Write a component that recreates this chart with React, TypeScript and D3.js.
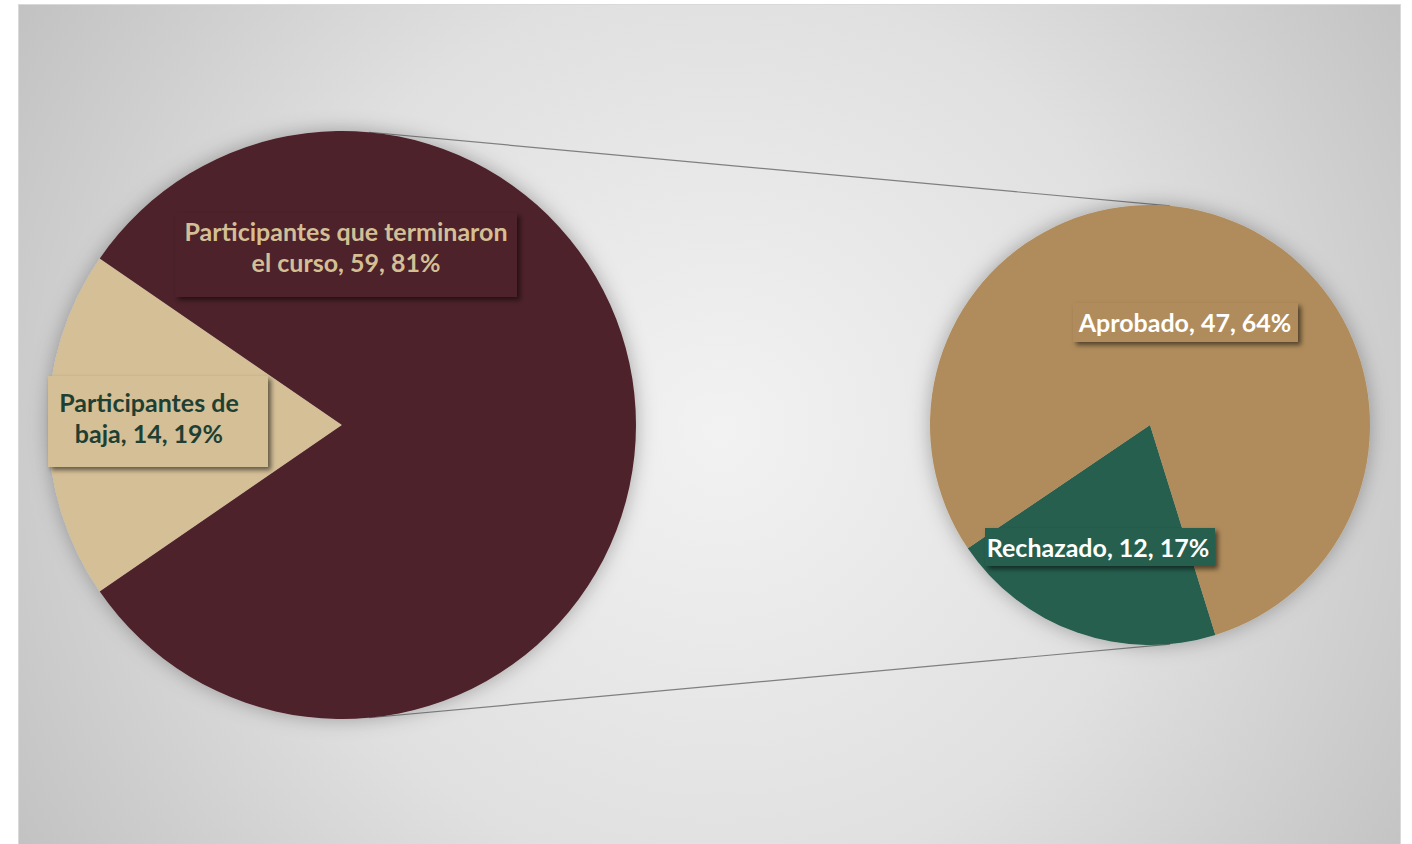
import React from "react";
import * as d3 from "d3";

const mainCategories = ["Participantes de baja", "Participantes que terminaron el curso"];
const mainValues = [14, 59];
const mainPercents = ["19%", "81%"];
const subCategories = ["Rechazado", "Aprobado"];
const subValues = [12, 47];
const subPercents = ["17%", "64%"];

const W = 1412;
const H = 844;
const FONT = "Lato, 'Open Sans', sans-serif";

export default function App() {
  const deg = Math.PI / 180;
  const c1 = { x: 342, y: 425, r: 294 };
  const c2 = { x: 1150, y: 425, r: 220 };

  const bajaSpan = (mainValues[0] / d3.sum(mainValues)) * 2 * Math.PI;
  const mainStart = 1.5 * Math.PI - bajaSpan / 2;
  const mainArcs = d3.pie<number>().sort(null).startAngle(mainStart).endAngle(mainStart + 2 * Math.PI)(mainValues);
  const subStart = 162.7 * deg;
  const subArcs = d3.pie<number>().sort(null).startAngle(subStart).endAngle(subStart + 2 * Math.PI)(subValues);

  const arc1 = d3.arc<any>().innerRadius(0).outerRadius(c1.r);
  const arc2 = d3.arc<any>().innerRadius(0).outerRadius(c2.r);

  const mainColors = ["#d4bf97", "#4e212c"];
  const subColors = ["#275e4e", "#b08c5c"];

  // external tangents
  const d = c2.x - c1.x;
  const th = Math.asin((c1.r - c2.r) / d);
  const tTop = [
    [c1.x + c1.r * Math.sin(th), c1.y - c1.r * Math.cos(th)],
    [c2.x + c2.r * Math.sin(th), c2.y - c2.r * Math.cos(th)],
  ];
  const tBot = [
    [c1.x + c1.r * Math.sin(th), c1.y + c1.r * Math.cos(th)],
    [c2.x + c2.r * Math.sin(th), c2.y + c2.r * Math.cos(th)],
  ];

  const labels = [
    {
      lines: ["Participantes que terminaron", `el curso, ${mainValues[1]}, ${mainPercents[1]}`],
      box: [175, 213, 342, 84], cx: 346, y0: 232, fill: mainColors[1], color: "#d4bf95",
    },
    {
      lines: ["Participantes de", `baja, ${mainValues[0]}, ${mainPercents[0]}`],
      box: [48, 376, 220, 91], cx: 149, y0: 403, fill: mainColors[0], color: "#1f3f33",
    },
    {
      lines: [`${subCategories[1]}, ${subValues[1]}, ${subPercents[1]}`],
      box: [1073, 303, 225, 39], cx: 1185, y0: 323, fill: subColors[1], color: "#ffffff",
    },
    {
      lines: [`${subCategories[0]}, ${subValues[0]}, ${subPercents[0]}`],
      box: [985, 528, 230, 38], cx: 1098, y0: 548, fill: subColors[0], color: "#ffffff",
    },
  ];

  return (
    <div style={{ position: "absolute", left: 0, top: 0 }}>
      <svg width={W} height={H} style={{ display: "block" }}>
        <defs>
          <radialGradient id="bg" gradientUnits="userSpaceOnUse" cx={720} cy={430} r={820}>
            <stop offset="0" stopColor="#f2f2f2" />
            <stop offset="0.55" stopColor="#e0e0e0" />
            <stop offset="1" stopColor="#c2c2c2" />
          </radialGradient>
          <filter id="pieShadow" x="-20%" y="-20%" width="140%" height="140%">
            <feDropShadow dx="0" dy="0" stdDeviation="10" floodColor="#000" floodOpacity="0.3" />
          </filter>
          <filter id="boxShadow" x="-10%" y="-20%" width="125%" height="150%">
            <feDropShadow dx="3" dy="3" stdDeviation="2.5" floodColor="#000" floodOpacity="0.55" />
          </filter>
        </defs>
        <rect x={0} y={0} width={W} height={H} fill="#ffffff" />
        <rect x={18.5} y={4.5} width={1382} height={H} fill="url(#bg)" stroke="#d9d9d9" strokeWidth={1} />

        <line x1={tTop[0][0]} y1={tTop[0][1]} x2={tTop[1][0]} y2={tTop[1][1]} stroke="#7f7f7f" strokeWidth={1.2} />
        <line x1={tBot[0][0]} y1={tBot[0][1]} x2={tBot[1][0]} y2={tBot[1][1]} stroke="#7f7f7f" strokeWidth={1.2} />

        <g transform={`translate(${c1.x},${c1.y})`} filter="url(#pieShadow)">
          {mainArcs.map((a, i) => (
            <path key={mainCategories[i]} d={arc1(a) as string} fill={mainColors[i]} />
          ))}
        </g>
        <g transform={`translate(${c2.x},${c2.y})`} filter="url(#pieShadow)">
          {subArcs.map((a, i) => (
            <path key={subCategories[i]} d={arc2(a) as string} fill={subColors[i]} />
          ))}
        </g>

        {labels.map((l, i) => (
          <g key={i}>
            <rect x={l.box[0]} y={l.box[1]} width={l.box[2]} height={l.box[3]} fill={l.fill} filter="url(#boxShadow)" />
            {l.lines.map((t, j) => (
              <text
                key={j}
                x={l.cx}
                y={l.y0 + j * 31}
                dy="0.35em"
                textAnchor="middle"
                fill={l.color}
                fontFamily={FONT}
                fontWeight={700}
                fontSize={25}
              >
                {t}
              </text>
            ))}
          </g>
        ))}
      </svg>
    </div>
  );
}
